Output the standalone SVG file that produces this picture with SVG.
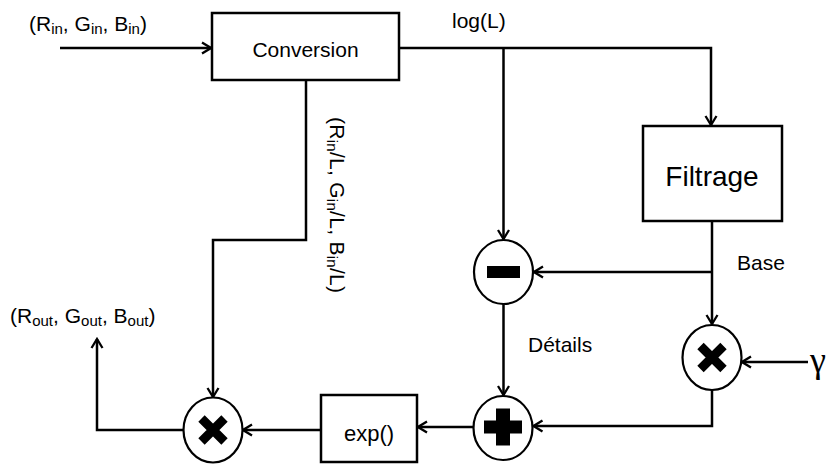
<svg xmlns="http://www.w3.org/2000/svg" width="833" height="464" viewBox="0 0 833 464">
<style>
text{font-family:"Liberation Sans",Arial,sans-serif;font-size:21px;fill:#000}
.sub{font-size:15px}
.box{fill:#fff;stroke:#000;stroke-width:2.5}
.op{fill:#fff;stroke:#000;stroke-width:2.2}
.wire{fill:none;stroke:#000;stroke-width:2.5;marker-end:url(#ah)}
.x{stroke:#000;stroke-width:9}
</style>
<defs>
<marker id="ah" markerUnits="userSpaceOnUse" markerWidth="14" markerHeight="14" viewBox="-12 -7 14 14" refX="0" refY="0" orient="auto">
<path d="M-9,-5.5 L0,0 L-9,5.5" fill="none" stroke="#000" stroke-width="2.3"/>
</marker>
</defs>
<g id="connectors">
<path class="wire" d="M60,48 H211"/>
<path class="wire" d="M399,48 H711 V125"/>
<path class="wire" d="M503.5,48 V239"/>
<path class="wire" d="M712,221 V324"/>
<path class="wire" d="M712,272 H534"/>
<path class="wire" d="M503.5,304 V395"/>
<path class="wire" d="M808,362 H742"/>
<path class="wire" d="M712,390 V426 H533.5"/>
<path class="wire" d="M473.5,427 H418"/>
<path class="wire" d="M321,430 H243"/>
<path class="wire" d="M306,80 V240 H213 V397"/>
<path class="wire" d="M183.5,430 H97 V339"/>
</g>
<g id="input-label"><text x="29" y="31">(R<tspan class="sub" dy="3">in</tspan><tspan dy="-3">, G</tspan><tspan class="sub" dy="3">in</tspan><tspan dy="-3">, B</tspan><tspan class="sub" dy="3">in</tspan><tspan dy="-3">)</tspan></text></g>
<g id="conversion"><rect class="box" x="212" y="13" width="187" height="67"/><text x="305.5" y="57" text-anchor="middle">Conversion</text></g>
<g id="logL-label"><text x="452" y="28">log(L)</text></g>
<g id="ratio-label"><text transform="translate(330,117) rotate(90)" x="0" y="0" textLength="176" lengthAdjust="spacing">(R<tspan class="sub" dy="3">in</tspan><tspan dy="-3">/L, G</tspan><tspan class="sub" dy="3">in</tspan><tspan dy="-3">/L, B</tspan><tspan class="sub" dy="3">in</tspan><tspan dy="-3">/L)</tspan></text></g>
<g id="filtrage"><rect class="box" x="643" y="126" width="139" height="95"/><text x="712" y="186" text-anchor="middle" style="font-size:28px">Filtrage</text></g>
<g id="base-label"><text x="737" y="270">Base</text></g>
<g id="minus"><ellipse class="op" cx="503.5" cy="272" rx="29.5" ry="32"/><rect x="487" y="266" width="33" height="12"/></g>
<g id="details-label"><text x="528" y="352">Détails</text></g>
<g id="mult-gamma"><ellipse class="op" cx="712" cy="357.5" rx="29.5" ry="32.5"/><path class="x" d="M700.5,346 L723.5,369 M723.5,346 L700.5,369"/></g>
<g id="gamma"><text x="810" y="372" style="font-family:'Liberation Serif','Times New Roman',serif;font-size:36px">γ</text></g>
<g id="plus"><ellipse class="op" cx="503" cy="428" rx="29.5" ry="32"/><rect x="496" y="408.5" width="14" height="37"/><rect x="484" y="420.5" width="38" height="13"/></g>
<g id="exp"><rect class="box" x="321" y="395" width="96" height="67"/><text x="369" y="441" text-anchor="middle" style="font-size:22px">exp()</text></g>
<g id="mult-out"><ellipse class="op" cx="213" cy="430" rx="29.5" ry="32.5"/><path class="x" d="M201.5,418.5 L224.5,441.5 M224.5,418.5 L201.5,441.5"/></g>
<g id="output-label"><text x="10" y="323">(R<tspan class="sub" dy="3">out</tspan><tspan dy="-3">, G</tspan><tspan class="sub" dy="3">out</tspan><tspan dy="-3">, B</tspan><tspan class="sub" dy="3">out</tspan><tspan dy="-3">)</tspan></text></g>
</svg>
